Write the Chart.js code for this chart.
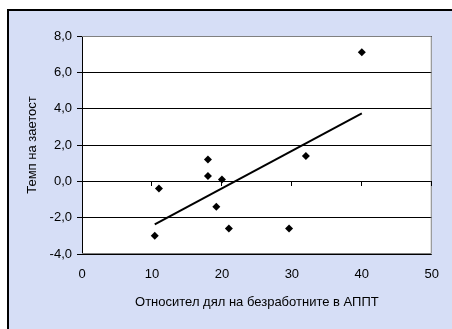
<!DOCTYPE html>
<html>
<head>
<meta charset="utf-8">
<script src="https://cdn.jsdelivr.net/npm/chart.js@4/dist/chart.umd.min.js"></script>
<style>
  html, body { margin: 0; padding: 0; background: #fff; }
  #wrap { width: 452px; height: 329px; position: relative; }
</style>
</head>
<body>
<div id="wrap"><canvas id="grafico"></canvas></div>
<script>
// dados
const xValores = [10.4, 11.0, 18.0, 18.0, 19.2, 20.0, 21.0, 29.6, 32.0, 40.0];
const yValores = [-3.0, -0.4, 1.2, 0.3, -1.4, 0.1, -2.6, -2.6, 1.4, 7.1];
const xTicks = [0, 10, 20, 30, 40, 50];
const yTicks = [-4, -2, 0, 2, 4, 6, 8];
const yTickLabels = ['-4,0', '-2,0', '0,0', '2,0', '4,0', '6,0', '8,0'];
const tituloX = 'Относител дял на безработните в АППТ';
const tituloY = 'Темп на заетост';

// linha de tendência (mínimos quadrados)
const n = xValores.length;
const mx = xValores.reduce((a, b) => a + b, 0) / n;
const my = yValores.reduce((a, b) => a + b, 0) / n;
let sxy = 0, sxx = 0;
xValores.forEach((x, i) => { sxy += (x - mx) * (yValores[i] - my); sxx += (x - mx) * (x - mx); });
const inclinacao = sxy / sxx;
const xMin = Math.min(...xValores), xMax = Math.max(...xValores);
const tendencia = [xMin, xMax].map(x => ({ x: x, y: my + inclinacao * (x - mx) }));

const fonte = { family: '"Liberation Sans", Arial, sans-serif', size: 13 };
Chart.defaults.color = '#000';

const fundoPlugin = {
    id: 'fundo',
    beforeDraw(chart) {
        const { ctx, chartArea: a } = chart;
        ctx.save();
        ctx.fillStyle = '#fff';
        ctx.fillRect(0, 0, chart.width, chart.height);
        ctx.fillStyle = '#D6DEF6';
        ctx.fillRect(9, 11, chart.width - 9, chart.height - 11);
        ctx.fillStyle = '#000';
        ctx.fillRect(7, 9, chart.width - 7, 2);
        ctx.fillRect(7, 9, 2, chart.height - 9);
        ctx.fillStyle = '#fff';
        ctx.fillRect(a.left, a.top, a.right - a.left, a.bottom - a.top);
        ctx.restore();
    },
    beforeDatasetsDraw(chart) {
        const { ctx, chartArea: a, scales } = chart;
        ctx.save();
        // borda da área de plotagem
        ctx.strokeStyle = '#808080';
        ctx.lineWidth = 1;
        ctx.beginPath();
        ctx.moveTo(a.left, a.top + 0.5);
        ctx.lineTo(a.right - 0.5, a.top + 0.5);
        ctx.lineTo(a.right - 0.5, a.bottom - 0.5);
        ctx.lineTo(a.left, a.bottom - 0.5);
        ctx.stroke();
        // marcas do eixo x sobre a linha do zero
        const y0 = Math.round(scales.y.getPixelForValue(0));
        ctx.strokeStyle = '#000';
        ctx.beginPath();
        xTicks.forEach(v => {
            if (v === 0) return;
            const px = Math.round(scales.x.getPixelForValue(v)) - 0.5;
            ctx.moveTo(px, y0);
            ctx.lineTo(px, y0 + 5);
        });
        ctx.stroke();
        ctx.restore();
    }
};

new Chart(document.getElementById('grafico'), {
    type: 'scatter',
    data: {
        datasets: [
            {
                label: 'Dados',
                data: xValores.map((x, i) => ({ x: x, y: yValores[i] })),
                pointStyle: 'rectRot',
                pointRadius: 4,
                backgroundColor: '#000',
                borderColor: '#000',
                borderWidth: 0
            },
            {
                label: 'Tendência',
                data: tendencia,
                showLine: true,
                pointRadius: 0,
                borderColor: '#000',
                borderWidth: 2
            }
        ]
    },
    options: {
        responsive: true, maintainAspectRatio: false, animation: false,
        layout: { padding: { left: 0, right: 14, top: 36, bottom: 0 } },
        plugins: { legend: { display: false }, tooltip: { enabled: false } },
        scales: {
            x: {
                type: 'linear', min: 0, max: 50,
                afterBuildTicks: s => { s.ticks = xTicks.map(v => ({ value: v })); },
                afterFit: s => { s.height = 75; },
                grid: { display: false, drawTicks: false, tickLength: 0 },
                border: { display: false },
                ticks: { font: fonte, padding: 13, maxRotation: 0, callback: v => String(v) },
                title: { display: true, text: tituloX, font: fonte, padding: { top: 0, bottom: 19 } }
            },
            y: {
                type: 'linear', min: -4, max: 8,
                afterBuildTicks: s => { s.ticks = yTicks.map(v => ({ value: v })); },
                afterFit: s => { s.width = 82; },
                grid: { color: '#000', lineWidth: 1, tickLength: 5 },
                border: { display: true, color: '#000', width: 1 },
                ticks: { font: fonte, padding: 5, callback: v => yTickLabels[yTicks.indexOf(v)] },
                title: { display: true, text: tituloY, font: fonte, padding: { top: 25, bottom: 0 } }
            }
        }
    },
    plugins: [fundoPlugin]
});
</script>
</body>
</html>
